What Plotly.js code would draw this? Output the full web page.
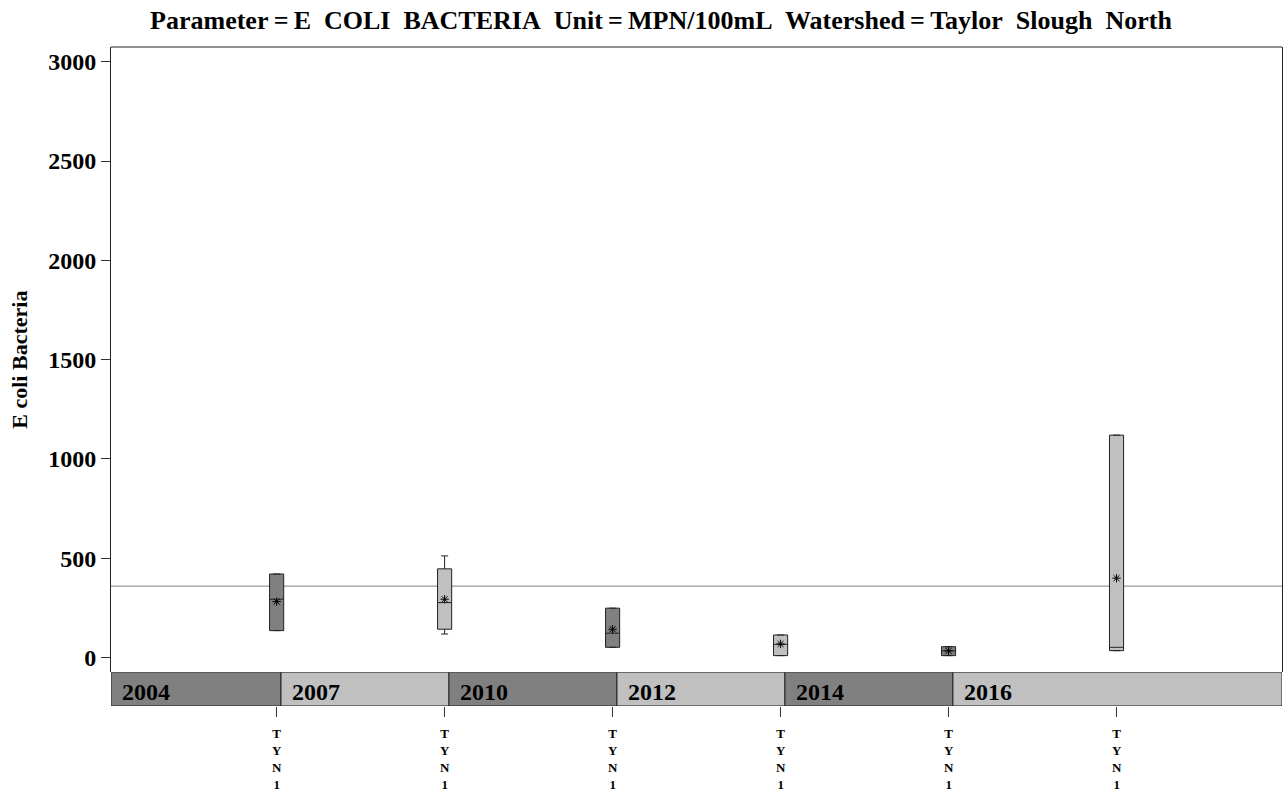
<!DOCTYPE html>
<html>
<head>
<meta charset="utf-8">
<script src="https://cdn.plot.ly/plotly-3.0.1.min.js"></script>
<style>body{margin:0;background:#fff;} #chart{width:1285px;height:791px;}</style>
</head>
<body>
<div id="chart"></div>
<script>
// ---- data ----
const sites = ['TYN1', 'TYN1', 'TYN1', 'TYN1', 'TYN1', 'TYN1'];
const years = ['2004', '2007', '2010', '2012', '2014', '2016'];
const lowerWhisker = [136, 119, 52, 10, 10, 35];
const q1 = [136, 143, 52, 10, 10, 35];
const median = [294, 277, 123, 67, 34, 52];
const q3 = [421, 447, 249, 114, 55, 1120];
const upperWhisker = [421, 512, 249, 114, 55, 1120];
const means = [282, 294, 143, 69, 34, 400];
const standardLevel = 360;
const yTicks = [0, 500, 1000, 1500, 2000, 2500, 3000];

// ---- styling ----
const DARK = '#808080', LIGHT = '#c0c0c0';
const fills = years.map((_, i) => (i % 2 === 0 ? DARK : LIGHT));
const FONT = 'Liberation Serif, Times New Roman, serif';
const xMin = 0.014, xMax = 6.985;
const pos = sites.map((_, i) => i + 1);
const bandFrac = 0.0511;

const traces = [];
pos.forEach((p, i) => {
  traces.push({
    type: 'box', x: [p], q1: [q1[i]], median: [median[i]], q3: [q3[i]],
    lowerfence: [lowerWhisker[i]], upperfence: [upperWhisker[i]],
    width: 0.084, whiskerwidth: 0.5, boxpoints: false,
    fillcolor: fills[i], line: {color: '#222', width: 1},
    xaxis: 'x', yaxis: 'y', showlegend: false, hoverinfo: 'skip'
  });
});
traces.push({
  type: 'scatter', mode: 'markers', x: pos, y: means,
  marker: {symbol: 'asterisk-open', size: 7, color: '#000', line: {color: '#000', width: 1}},
  xaxis: 'x', yaxis: 'y', showlegend: false, hoverinfo: 'skip'
});
// year band
const starts = years.map((_, i) => (i === 0 ? xMin : i + 0.026));
const ends = years.map((_, i) => (i === years.length - 1 ? xMax : i + 1.026));
traces.push({
  type: 'bar', orientation: 'h', y: years.map(() => 0), base: starts,
  x: starts.map((s, i) => ends[i] - s), width: 1,
  marker: {color: fills, line: {color: '#222', width: 1}},
  xaxis: 'x', yaxis: 'y2', showlegend: false, hoverinfo: 'skip'
});

const annotations = years.map((yr, i) => ({
  x: starts[i], xref: 'x', y: 0, yref: 'y2', xanchor: 'left', yanchor: 'middle',
  xshift: 9, yshift: -3, showarrow: false, text: yr,
  font: {family: FONT, size: 24, color: '#000', weight: 'bold'}
}));
// vertical (stacked-letter) site labels under each tick
sites.forEach((s, i) => {
  annotations.push({
    x: pos[i], xref: 'x', y: 0, yref: 'paper', xanchor: 'center', yanchor: 'top',
    yshift: -18, showarrow: false, text: s.split('').join('<br>'),
    font: {family: FONT, size: 13, color: '#000', weight: 'bold'}
  });
});

const sp = '\u2009=\u2009';
const layout = {
  width: 1285, height: 791,
  margin: {l: 111, r: 3, t: 47, b: 85},
  paper_bgcolor: '#fff', plot_bgcolor: '#fff',
  title: {
    text: 'Parameter' + sp + 'E\u00a0 COLI\u00a0 BACTERIA\u00a0 Unit' + sp + 'MPN/100mL\u00a0 Watershed' + sp + 'Taylor\u00a0 Slough\u00a0 North',
    font: {family: FONT, size: 26, color: '#000', weight: 'bold'},
    x: 661 / 1285, xref: 'container', xanchor: 'center',
    y: 1 - 20 / 791, yref: 'container', yanchor: 'middle'
  },
  xaxis: {
    range: [xMin, xMax], anchor: 'y2', tickvals: pos, showticklabels: false,
    ticks: 'outside', ticklen: 10, tickcolor: '#333', tickwidth: 1,
    showline: false, showgrid: false, zeroline: false
  },
  yaxis: {
    domain: [bandFrac, 1], range: [-74, 3074], tickvals: yTicks,
    ticks: 'outside', ticklen: 9, tickcolor: '#333', tickwidth: 1,
    showline: true, linecolor: '#222', linewidth: 1, mirror: true,
    showgrid: false, zeroline: false,
    tickfont: {family: FONT, size: 24, color: '#000', weight: 'bold'},
    title: {text: 'E coli Bacteria', font: {family: FONT, size: 22, color: '#000', weight: 'bold'}, standoff: 14}
  },
  yaxis2: {domain: [0, bandFrac], range: [-0.5, 0.5], visible: false, fixedrange: true},
  shapes: [
    {type: 'line', xref: 'paper', x0: 0, x1: 1, yref: 'y', y0: standardLevel, y1: standardLevel,
     line: {color: '#808080', width: 1}, layer: 'below'},
    {type: 'line', xref: 'paper', x0: 0, x1: 1, yref: 'paper', y0: 1, y1: 1,
     line: {color: '#222', width: 1}}
  ],
  annotations: annotations,
  barmode: 'overlay', boxmode: 'overlay', showlegend: false
};

Plotly.newPlot('chart', traces, layout, {displayModeBar: false, staticPlot: true});
</script>
</body>
</html>
